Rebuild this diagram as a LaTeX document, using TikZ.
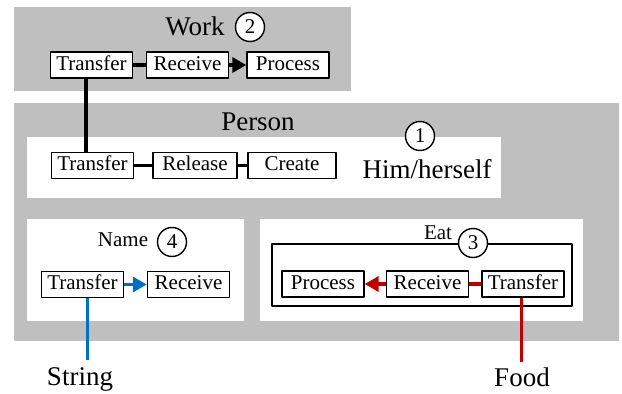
\documentclass[tikz,border=0pt]{standalone}
\usepackage{fontspec}
\setmainfont{Liberation Serif}
\newfontfamily\chu{Liberation Serif}
\usetikzlibrary{arrows.meta}
\definecolor{xam}{RGB}{191,191,191}
\definecolor{xanh}{RGB}{0,112,192}
\definecolor{do}{RGB}{192,0,0}
\begin{document}
\begin{tikzpicture}[x=1pt, y=-1pt, line join=round, >={Triangle[length=14pt,width=15pt]},
	hop/.style={draw, line width=1.4pt, fill=white, minimum width=82pt, minimum height=26pt, text height=14pt, text depth=4pt, inner sep=2pt, font=\chu\fontsize{21}{25}\selectfont},
	so/.style={draw, circle, line width=1.4pt, fill=white, minimum size=29pt, inner sep=0pt, font=\chu\fontsize{21}{25}\selectfont},
	tieude/.style={anchor=base, inner sep=0pt, font=\chu\fontsize{27}{32}\selectfont},
	nho/.style={anchor=base, inner sep=0pt, font=\chu\fontsize{21}{25}\selectfont},
	link/.style={line width=3.5pt}]
	%Nền và khung.
	\fill[white] (0,0) rectangle (622,394);
	\useasboundingbox (0,0) rectangle (622,394);
	\fill[xam] (14,7) rectangle (351,91);
	\fill[xam] (14,103) rectangle (619,341);
	\fill[white] (27,137) rectangle (501,198);
	\fill[white] (27,219) rectangle (244,321);
	\fill[white] (260,219) rectangle (583,321);
	\draw[line width=1.4pt] (272,244) rectangle (572,306);
	%Work.
	\node[tieude] (work) at (195,35) {Work};
	\node[so] (s2) at (250,27) {2};
	\node[hop] (wT) at (91.5,65) {Transfer};
	\node[hop] (wR) at (187.5,65) {Receive};
	\node[hop] (wP) at (288,65) {Process};
	%Person.
	\node[tieude] (person) at (258,130) {Person};
	\node[so] (s1) at (420,136) {1};
	\node[tieude] (him) at (427,178) {Him/herself};
	\node[hop] (pT) at (92.5,165.5) {Transfer};
	\node[hop, minimum width=84pt] (pR) at (195,165.5) {Release};
	\node[hop, minimum width=88pt] (pC) at (292,165.5) {Create};
	%Name.
	\node[nho] (name) at (123,246) {Name};
	\node[so] (s4) at (172,242) {4};
	\node[hop] (nT) at (82.5,284.5) {Transfer};
	\node[hop] (nR) at (188.5,284.5) {Receive};
	%Eat.
	\node[nho] (eat) at (438,239) {Eat};
	\node[so] (s3) at (473,243) {3};
	\node[hop] (eP) at (323,284) {Process};
	\node[hop] (eR) at (427.5,284) {Receive};
	\node[hop] (eT) at (523,284) {Transfer};
	%Đầu vào.
	\node[tieude] (string) at (80,385) {String};
	\node[tieude] (food) at (522,386) {Food};
	\coordinate (cS) at (87,360);
	\coordinate (cF) at (521,362);
	%Nối.
	\draw[link] (wT)--(wR);
	\draw[link,->] (wR)--(wP);
	\draw[link] ([xshift=-5.5pt]wT.south)--([xshift=-5.5pt]wT.south |- pT.north);
	\draw[link] (pT)--(pR) (pR)--(pC);
	\draw[link,xanh,->] (nT)--(nR);
	\draw[link,xanh,line width=3pt] (cS |- nT.south)--(cS);
	\draw[link,do] (eT)--(eR);
	\draw[link,do,->] (eR)--(eP);
	\draw[link,do,line width=3pt] (cF |- eT.south)--(cF);
\end{tikzpicture}
\end{document}
